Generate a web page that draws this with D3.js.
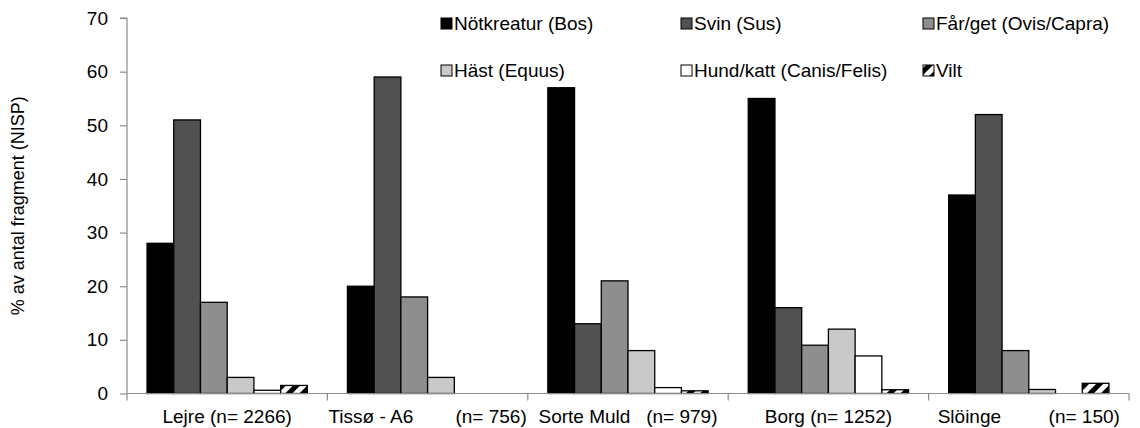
<!DOCTYPE html>
<html>
<head>
<meta charset="utf-8">
<script src="https://cdn.jsdelivr.net/npm/d3@7"></script>
<style>
  body { margin: 0; background: #fff; }
  text { font-family: "Liberation Sans", Arial, sans-serif; }
</style>
</head>
<body>
<script>
// chart size
var w = 1140, h = 428;

// data
var sites = ["Lejre (n= 2266)", "Tissø - A6        (n= 756)", "Sorte Muld   (n= 979)", "Borg (n= 1252)", "Slöinge         (n= 150)"];
var species = ["Nötkreatur (Bos)", "Svin (Sus)", "Får/get (Ovis/Capra)", "Häst (Equus)", "Hund/katt (Canis/Felis)", "Vilt"];
var notkreatur = [28, 20, 57, 55, 37];
var svin = [51, 59, 13, 16, 52];
var farget = [17, 18, 21, 9, 8];
var hast = [3, 3, 8, 12, 0.75];
var hundkatt = [0.6, 0, 1.1, 7, 0];
var vilt = [1.5, 0, 0.5, 0.7, 1.9];
var yTicks = [0, 10, 20, 30, 40, 50, 60, 70];

var seriesValues = [notkreatur, svin, farget, hast, hundkatt, vilt];
var fills = ["#000000", "#515151", "#8e8e8e", "#c9c9c9", "#ffffff", "url(#stripes)"];

window.onload = function(){
  var svg = d3.select("body").append("svg")
    .attr("width", w)
    .attr("height", h);

  // hatch pattern for Vilt
  var pat = svg.append("defs").append("pattern")
    .attr("id", "stripes")
    .attr("patternUnits", "userSpaceOnUse")
    .attr("width", 10)
    .attr("height", 10)
    .attr("patternTransform", "rotate(45)");
  pat.append("rect").attr("width", 10).attr("height", 10).attr("fill", "#fff");
  pat.append("rect").attr("width", 5).attr("height", 10).attr("fill", "#000");

  var left = 127, right = 1129, top = 18, bottom = 393.5;

  var x0 = d3.scaleBand().domain(sites).range([left, right]).paddingInner(0).paddingOuter(0);
  // 6 bars per site with a gap of 3/4 bar on each side
  var x1 = d3.scaleBand().domain(d3.range(species.length)).range([0, x0.bandwidth()]).paddingOuter(0.75).paddingInner(0);
  var y = d3.scaleLinear().domain([0, 70]).range([bottom, top]);

  // bars
  var groups = svg.selectAll(".site")
    .data(sites)
    .enter().append("g")
    .attr("class", "site")
    .attr("transform", function(d){ return "translate(" + x0(d) + ",0)"; });

  groups.selectAll("rect")
    .data(function(d, i){
      return seriesValues.map(function(s, k){ return {k: k, v: s[i]}; });
    })
    .enter().append("rect")
    .filter(function(d){ return d.v > 0; })
    .attr("x", function(d){ return x1(d.k); })
    .attr("width", x1.bandwidth())
    .attr("y", function(d){ return y(d.v); })
    .attr("height", function(d){ return y(0) - y(d.v); })
    .attr("fill", function(d){ return fills[d.k]; })
    .attr("stroke", "#000")
    .attr("stroke-width", 1.3);

  // y axis
  var yAxis = svg.append("g")
    .attr("transform", "translate(" + left + ",0)")
    .call(d3.axisLeft(y).tickValues(yTicks).tickSize(7).tickPadding(12));
  yAxis.select(".domain").attr("stroke", "#8c8c8c").attr("stroke-width", 1.2)
    .attr("d", "M-7," + y(70) + "H0V" + y(0));
  yAxis.selectAll(".tick line").attr("stroke", "#8c8c8c").attr("stroke-width", 1.2);
  yAxis.selectAll(".tick text")
    .attr("font-size", 19)
    .attr("fill", "#000")
    .style("font-family", "'Liberation Sans', Arial, sans-serif");

  // x axis
  var xAxis = svg.append("g")
    .attr("transform", "translate(0," + bottom + ")");
  xAxis.append("line")
    .attr("x1", left).attr("x2", right)
    .attr("stroke", "#8c8c8c").attr("stroke-width", 1.2);
  var bounds = sites.map(function(s){ return x0(s); }).concat([right]);
  xAxis.selectAll(".xtick")
    .data(bounds)
    .enter().append("line")
    .attr("x1", function(d){ return d; })
    .attr("x2", function(d){ return d; })
    .attr("y1", 0).attr("y2", 7)
    .attr("stroke", "#8c8c8c").attr("stroke-width", 1.2);
  xAxis.selectAll(".xlab")
    .data(sites)
    .enter().append("text")
    .attr("x", function(d){ return x0(d) + x0.bandwidth() / 2; })
    .attr("y", 29)
    .attr("text-anchor", "middle")
    .attr("font-size", 19)
    .style("white-space", "pre")
    .text(function(d){ return d; });

  // y axis title
  svg.append("text")
    .attr("transform", "translate(24," + ((top + bottom) / 2 + 0) + ") rotate(-90)")
    .attr("text-anchor", "middle")
    .attr("font-size", 18)
    .text("% av antal fragment (NISP)");

  // legend
  var legX = [440, 680, 922], legY = [22, 69];
  var leg = svg.selectAll(".legend")
    .data(species)
    .enter().append("g")
    .attr("class", "legend")
    .attr("transform", function(d, i){
      return "translate(" + legX[i % 3] + "," + legY[Math.floor(i / 3)] + ")";
    });
  leg.append("rect")
    .attr("x", 1).attr("y", -4)
    .attr("width", 11).attr("height", 11)
    .attr("fill", function(d, i){ return fills[i]; })
    .attr("stroke", "#000")
    .attr("stroke-width", 1);
  leg.append("text")
    .attr("x", 14)
    .attr("y", 8)
    .attr("font-size", 19)
    .text(function(d){ return d; });
};
</script>
</body>
</html>
